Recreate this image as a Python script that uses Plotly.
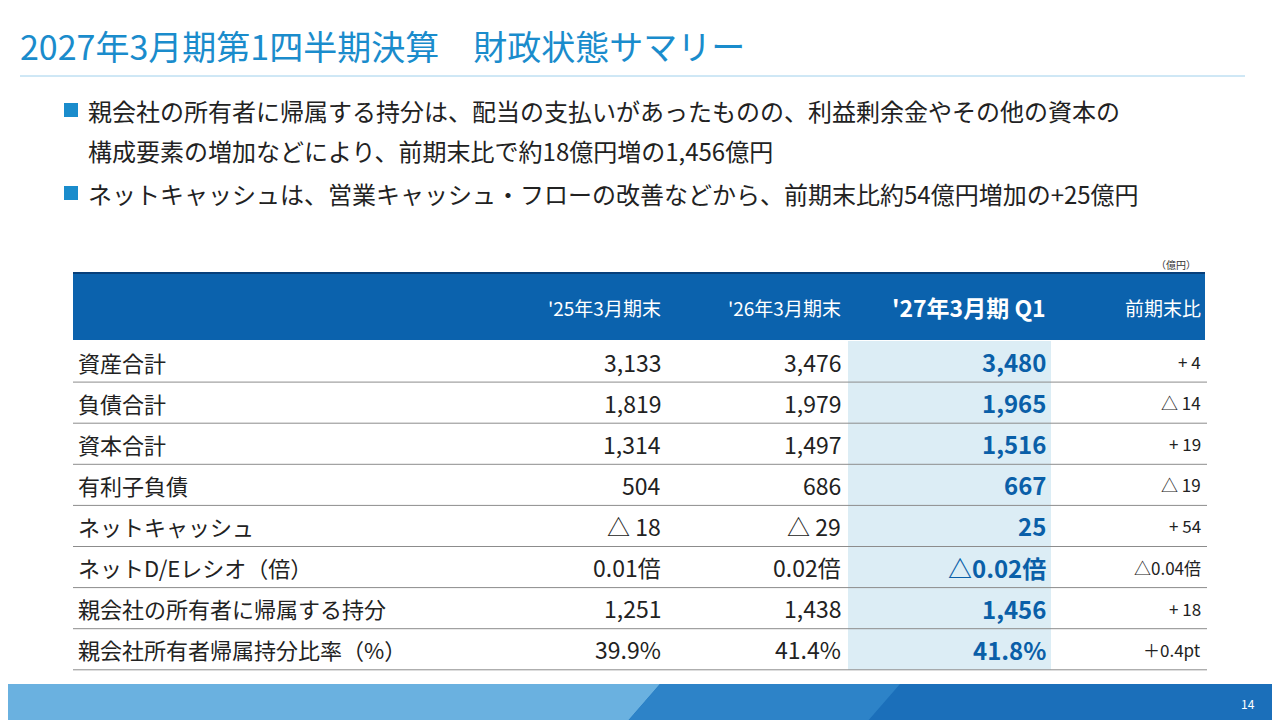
import plotly.graph_objects as go

# data
title = "2027年3月期第1四半期決算　財政状態サマリー"
bullets = [
    ["親会社の所有者に帰属する持分は、配当の支払いがあったものの、利益剰余金やその他の資本の",
     "構成要素の増加などにより、前期末比で約18億円増の1,456億円"],
    ["ネットキャッシュは、営業キャッシュ・フローの改善などから、前期末比約54億円増加の+25億円"],
]
headers = ["'25年3月期末", "'26年3月期末", "'27年3月期 Q1", "前期末比"]
row_labels = ["資産合計", "負債合計", "資本合計", "有利子負債", "ネットキャッシュ",
              "ネットD/Eレシオ（倍）", "親会社の所有者に帰属する持分", "親会社所有者帰属持分比率（%）"]
fy25 = ["3,133", "1,819", "1,314", "504", "△ 18", "0.01倍", "1,251", "39.9%"]
fy26 = ["3,476", "1,979", "1,497", "686", "△ 29", "0.02倍", "1,438", "41.4%"]
q1_27 = ["3,480", "1,965", "1,516", "667", "25", "△0.02倍", "1,456", "41.8%"]
change = ["+ 4", "△ 14", "+ 19", "△ 19", "+ 54", "△0.04倍", "+ 18", "＋0.4pt"]
page_no = "14"

FONT = "Noto Sans CJK JP"
BLUE = "#1a8ccc"
DARK = "#0a5fa8"

fig = go.Figure()
shapes = []
ann = []

def text(x, y, s, size, color="#222", anchor="left", bold=False):
    ann.append(dict(x=x, y=y, text=f"<b>{s}</b>" if bold else s, showarrow=False,
                    xanchor=anchor, yanchor="middle",
                    font=dict(family=FONT, size=size, color=color)))

# title
text(18, 45, title, 34, BLUE)
shapes.append(dict(type="line", x0=20, x1=1245, y0=76, y1=76, line=dict(color="#9fd0ec", width=1)))

# bullets
y = 110
for b in bullets:
    shapes.append(dict(type="rect", x0=64, x1=78, y0=y - 7, y1=y + 7, fillcolor=BLUE, line_width=0))
    for line in b:
        text(86, y, line, 24)
        y += 40
    y += 3

text(1198, 264, "（億円）", 10, "#333", "right")

# table header
col_x = [663, 843, 1048, 1203]
shapes.append(dict(type="rect", x0=73, x1=1205, y0=273, y1=340, fillcolor="#0b62ad", line_width=0))
shapes.append(dict(type="line", x0=73, x1=1205, y0=273, y1=273, line=dict(color="#073f7a", width=2)))
for i, h in enumerate(headers):
    text(col_x[i], 307, h, 23 if i == 2 else 19, "white", "right", bold=(i == 2))

row_top = 341
row_h = 41.1
n = len(row_labels)
shapes.append(dict(type="rect", x0=848, x1=1051, y0=row_top, y1=row_top + n * row_h,
                   fillcolor="#dcedf5", line_width=0, layer="below"))
for r in range(n):
    cy = row_top + (r + 0.5) * row_h
    text(76, cy, row_labels[r], 22)
    text(col_x[0], cy, fy25[r], 23, "#222", "right")
    text(col_x[1], cy, fy26[r], 23, "#222", "right")
    text(col_x[2], cy, q1_27[r], 24, DARK, "right", bold=True)
    text(col_x[3], cy, change[r], 17, "#222", "right")
    yl = row_top + (r + 1) * row_h
    shapes.append(dict(type="line", x0=73, x1=1207, y0=yl, y1=yl, line=dict(color="#8c8c8c", width=1)))

# footer
shapes.append(dict(type="rect", x0=0, x1=1290, y0=684, y1=730, fillcolor="#1b6fba", line_width=0))
shapes.append(dict(type="path", path="M 0 684 L 660 684 L 620 730 L 0 730 Z",
                   fillcolor="#6ab1e0", line_width=0))
shapes.append(dict(type="path", path="M 660 684 L 900 684 L 860 730 L 620 730 Z",
                   fillcolor="#2d83c8", line_width=0))
text(1248, 703, page_no, 12, "white", "center")

# page body has an 8px margin, so shift the ranges to keep page pixels aligned
fig.update_layout(
    width=1280, height=720, margin=dict(l=0, r=0, t=0, b=0),
    paper_bgcolor="white", plot_bgcolor="white",
    xaxis=dict(range=[8, 1288], visible=False, fixedrange=True),
    yaxis=dict(range=[728, 8], visible=False, fixedrange=True),
    shapes=shapes, annotations=ann, showlegend=False,
)
fig.write_html("out.html")
